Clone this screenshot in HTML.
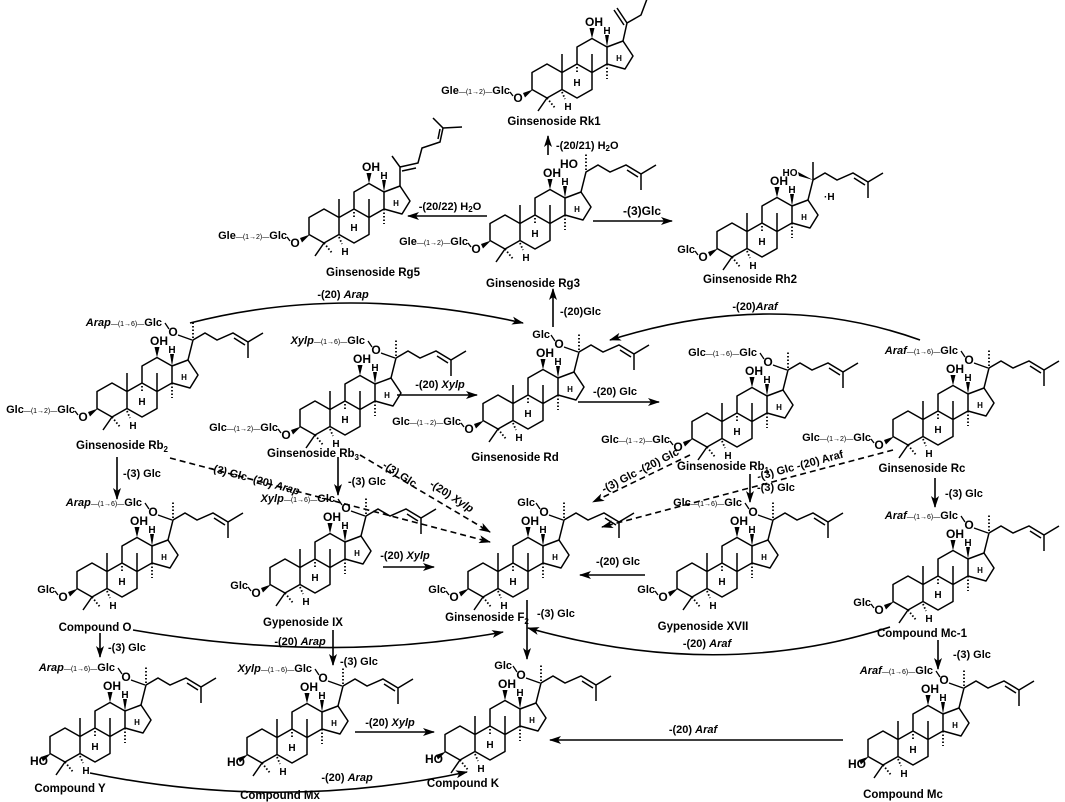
<!DOCTYPE html>
<html><head><meta charset="utf-8"><style>
html,body{margin:0;padding:0;background:#fff;}
svg{display:block;}
text{font-family:"Liberation Sans",Arial,sans-serif;font-weight:bold;font-size:11px;fill:#000;}
.s{font-size:7px;font-weight:normal;}
.lab{font-size:11.5px;}
.it{font-style:italic;}
</style></head><body>
<svg width="1065" height="802" viewBox="0 0 1065 802" xmlns="http://www.w3.org/2000/svg">
<defs>
<marker id="ah" viewBox="0 0 12 8" refX="11" refY="4" markerWidth="12" markerHeight="8" markerUnits="userSpaceOnUse" orient="auto">
<path d="M0,0 L12,4 L0,8 L3,4 Z" fill="#000"/></marker>
<g id="core">
<path fill="none" stroke="#000" stroke-width="1.5" stroke-linejoin="round" d="M0,-17 L15,-8.5 L15,8.5 L0,17 L-15,8.5 L-15,-8.5 Z M15,-8.5 L30,-17 L45,-8.5 L45,8.5 L30,17 L15,8.5 M30,-17 L30,-34 L45,-42.5 L60,-34 L60,-17 L45,-8.5 M60,-34 L76,-40 L86,-25 L78,-12 L60,-17 M15,-8.5 L15,-27 M45,-8.5 L45,-27 M0,17 L-9,30"/>
<path fill="none" stroke="#000" stroke-width="1.8" stroke-dasharray="1.5 2" d="M60,-17 L60,-2 M30,-14 L30,-7 M15,11 L18,18 M0,17 L8,27"/>
<polygon points="-14,8.5 -24,12 -22,16.5" fill="#000"/>
<polygon points="45,-42.5 42.5,-53 47.5,-53" fill="#000"/>
<polygon points="60,-34 58,-46 62,-46" fill="#000"/>
<text x="60" y="-47" text-anchor="middle" style="font-size:10px">H</text>
<text x="47" y="-55" text-anchor="middle" style="font-size:12px">OH</text>
<text x="30" y="5" text-anchor="middle" style="font-size:10px">H</text>
<text x="21" y="29" text-anchor="middle" style="font-size:10px">H</text>
<text x="72" y="-20" text-anchor="middle" style="font-size:8px">H</text>
</g>
<g id="sc">
<path fill="none" stroke="#000" stroke-width="1.5" d="M76,-40 L81,-60 L93,-67 L105,-60 L121,-67 L136,-58 L151,-67 M136,-58 L136,-42 M122,-62 L133,-55"/>
<path fill="none" stroke="#000" stroke-width="1.8" stroke-dasharray="1.5 2" d="M81,-62 L81,-78"/>
</g>
<g id="o20"><text x="61" y="-64" text-anchor="middle" style="font-size:12px">O</text>
<path d="M66,-65 L80,-60 M53,-77 L57,-71" stroke="#000" stroke-width="1.3"/></g>
<g id="o3"><text x="-29" y="21" text-anchor="middle" style="font-size:12px">O</text>
<path d="M-37,11 L-34,15" stroke="#000" stroke-width="1.3"/></g>
<g id="ho3"><text x="-26" y="20" text-anchor="middle" style="font-size:12px">HO</text></g>
</defs>

<!-- Rk1 -->
<g transform="translate(547,81)"><use href="#core"/>
<path fill="none" stroke="#000" stroke-width="1.5" d="M76,-40 L80,-58 L94,-66 L100,-82 M80,-58 L70,-73 M77,-56 L67,-71"/>
<use href="#o3"/><text x="-37" y="13" text-anchor="end">Gle<tspan class="s">—(1→2)—</tspan>Glc</text></g>
<text class="lab" x="554" y="125" text-anchor="middle">Ginsenoside Rk1</text>

<!-- Rg5 -->
<g transform="translate(324,226)"><use href="#core"/>
<path fill="none" stroke="#000" stroke-width="1.5" d="M76,-40 L76,-59 L68,-70 M76,-59 L94,-63 L98,-78 L116,-84 L119,-98 L109,-108 M119,-98 L138,-99 M78,-55 L92,-58 M114,-87 L116,-97"/>
<use href="#o3"/><text x="-37" y="13" text-anchor="end">Gle<tspan class="s">—(1→2)—</tspan>Glc</text></g>
<text class="lab" x="373" y="276" text-anchor="middle">Ginsenoside Rg5</text>

<!-- Rg3 -->
<g transform="translate(505,232)"><use href="#core"/><use href="#sc"/>
<text x="64" y="-64" text-anchor="middle" style="font-size:12px">HO</text>
<use href="#o3"/><text x="-37" y="13" text-anchor="end">Gle<tspan class="s">—(1→2)—</tspan>Glc</text></g>
<text class="lab" x="533" y="287" text-anchor="middle">Ginsenoside Rg3</text>

<!-- Rh2 -->
<g transform="translate(732,240)"><use href="#core"/>
<path fill="none" stroke="#000" stroke-width="1.5" d="M76,-40 L81,-60 L93,-67 L105,-60 L121,-67 L136,-58 L151,-67 M136,-58 L136,-42 M122,-62 L133,-55 M81,-60 L81,-78"/>
<polygon points="81,-60 66,-68 67,-64" fill="#000"/>
<text x="58" y="-64" text-anchor="middle" style="font-size:10px">HO</text>
<text x="92" y="-40" style="font-size:10px">·H</text>
<use href="#o3"/><text x="-37" y="13" text-anchor="end">Glc</text></g>
<text class="lab" x="750" y="283" text-anchor="middle">Ginsenoside Rh2</text>

<!-- Rb2 -->
<g transform="translate(112,400)"><use href="#core"/><use href="#sc"/><use href="#o20"/>
<text x="50" y="-74" text-anchor="end"><tspan class="it">Arap</tspan><tspan class="s">—(1→6)—</tspan>Glc</text>
<use href="#o3"/><text x="-37" y="13" text-anchor="end">Glc<tspan class="s">—(1→2)—</tspan>Glc</text></g>
<text class="lab" x="122" y="449" text-anchor="middle">Ginsenoside Rb<tspan font-size="8" dy="3">2</tspan></text>

<!-- Rb3 -->
<g transform="translate(315,418)"><use href="#core"/><use href="#sc"/><use href="#o20"/>
<text x="50" y="-74" text-anchor="end"><tspan class="it">Xylp</tspan><tspan class="s">—(1→6)—</tspan>Glc</text>
<use href="#o3"/><text x="-37" y="13" text-anchor="end">Glc<tspan class="s">—(1→2)—</tspan>Glc</text></g>
<text class="lab" x="313" y="457" text-anchor="middle">Ginsenoside Rb<tspan font-size="8" dy="3">3</tspan></text>

<!-- Rd -->
<g transform="translate(498,412)"><use href="#core"/><use href="#sc"/><use href="#o20"/>
<text x="52" y="-74" text-anchor="end">Glc</text>
<use href="#o3"/><text x="-37" y="13" text-anchor="end">Glc<tspan class="s">—(1→2)—</tspan>Glc</text></g>
<text class="lab" x="515" y="461" text-anchor="middle">Ginsenoside Rd</text>

<!-- Rb1 -->
<g transform="translate(707,430)"><use href="#core"/><use href="#sc"/><use href="#o20"/>
<text x="50" y="-74" text-anchor="end">Glc<tspan class="s">—(1→6)—</tspan>Glc</text>
<use href="#o3"/><text x="-37" y="13" text-anchor="end">Glc<tspan class="s">—(1→2)—</tspan>Glc</text></g>
<text class="lab" x="723" y="470" text-anchor="middle">Ginsenoside Rb<tspan font-size="8" dy="3">1</tspan></text>

<!-- Rc -->
<g transform="translate(908,428)"><use href="#core"/><use href="#sc"/><use href="#o20"/>
<text x="50" y="-74" text-anchor="end"><tspan class="it">Araf</tspan><tspan class="s">—(1→6)—</tspan>Glc</text>
<use href="#o3"/><text x="-37" y="13" text-anchor="end">Glc<tspan class="s">—(1→2)—</tspan>Glc</text></g>
<text class="lab" x="922" y="472" text-anchor="middle">Ginsenoside Rc</text>

<!-- Compound O -->
<g transform="translate(92,580)"><use href="#core"/><use href="#sc"/><use href="#o20"/>
<text x="50" y="-74" text-anchor="end"><tspan class="it">Arap</tspan><tspan class="s">—(1→6)—</tspan>Glc</text>
<use href="#o3"/><text x="-37" y="13" text-anchor="end">Glc</text></g>
<text class="lab" x="95" y="631" text-anchor="middle">Compound O</text>

<!-- IX -->
<g transform="translate(285,576)"><use href="#core"/><use href="#sc"/><use href="#o20"/>
<text x="50" y="-74" text-anchor="end"><tspan class="it">Xylp</tspan><tspan class="s">—(1→6)—</tspan>Glc</text>
<use href="#o3"/><text x="-37" y="13" text-anchor="end">Glc</text></g>
<text class="lab" x="303" y="626" text-anchor="middle">Gypenoside IX</text>

<!-- F2 -->
<g transform="translate(483,580)"><use href="#core"/><use href="#sc"/><use href="#o20"/>
<text x="52" y="-74" text-anchor="end">Glc</text>
<use href="#o3"/><text x="-37" y="13" text-anchor="end">Glc</text></g>
<text class="lab" x="487" y="621" text-anchor="middle">Ginsenoside F<tspan font-size="8" dy="3">2</tspan></text>

<!-- XVII -->
<g transform="translate(692,580)"><use href="#core"/><use href="#sc"/><use href="#o20"/>
<text x="50" y="-74" text-anchor="end">Glc<tspan class="s">—(1→6)—</tspan>Glc</text>
<use href="#o3"/><text x="-37" y="13" text-anchor="end">Glc</text></g>
<text class="lab" x="703" y="630" text-anchor="middle">Gypenoside XVII</text>

<!-- Mc-1 -->
<g transform="translate(908,593)"><use href="#core"/><use href="#sc"/><use href="#o20"/>
<text x="50" y="-74" text-anchor="end"><tspan class="it">Araf</tspan><tspan class="s">—(1→6)—</tspan>Glc</text>
<use href="#o3"/><text x="-37" y="13" text-anchor="end">Glc</text></g>
<text class="lab" x="922" y="637" text-anchor="middle">Compound Mc-1</text>

<!-- Y -->
<g transform="translate(65,745)"><use href="#core"/><use href="#sc"/><use href="#o20"/>
<text x="50" y="-74" text-anchor="end"><tspan class="it">Arap</tspan><tspan class="s">—(1→6)—</tspan>Glc</text>
<use href="#ho3"/></g>
<text class="lab" x="70" y="792" text-anchor="middle">Compound Y</text>

<!-- Mx -->
<g transform="translate(262,746)"><use href="#core"/><use href="#sc"/><use href="#o20"/>
<text x="50" y="-74" text-anchor="end"><tspan class="it">Xylp</tspan><tspan class="s">—(1→6)—</tspan>Glc</text>
<use href="#ho3"/></g>
<text class="lab" x="280" y="799" text-anchor="middle">Compound Mx</text>

<!-- K -->
<g transform="translate(460,743)"><use href="#core"/><use href="#sc"/><use href="#o20"/>
<text x="52" y="-74" text-anchor="end">Glc</text>
<use href="#ho3"/></g>
<text class="lab" x="463" y="787" text-anchor="middle">Compound K</text>

<!-- Mc -->
<g transform="translate(883,748)"><use href="#core"/><use href="#sc"/><use href="#o20"/>
<text x="50" y="-74" text-anchor="end"><tspan class="it">Araf</tspan><tspan class="s">—(1→6)—</tspan>Glc</text>
<use href="#ho3"/></g>
<text class="lab" x="903" y="798" text-anchor="middle">Compound Mc</text>

<!-- straight arrows -->
<g stroke="#000" stroke-width="1.6" fill="none" marker-end="url(#ah)">
<path d="M548,155 L548,136"/>
<path d="M487,216 L408,216"/>
<path d="M593,221 L672,221"/>
<path d="M553,327 L553,289"/>
<path d="M397,395 L477,395"/>
<path d="M578,402 L659,402"/>
<path d="M117,457 L117,499"/>
<path d="M338,457 L338,495"/>
<path d="M750,474 L750,502"/>
<path d="M935,478 L935,507"/>
<path d="M383,567 L434,567"/>
<path d="M645,575 L580,575"/>
<path d="M527,600 L527,659"/>
<path d="M100,633 L100,657"/>
<path d="M333,630 L333,665"/>
<path d="M938,640 L938,669"/>
<path d="M355,732 L434,732"/>
<path d="M843,740 L550,740"/>
<path d="M190,323 Q345,283 523,323"/>
<path d="M920,340 Q775,288 610,340"/>
<path d="M133,630 Q330,664 503,632"/>
<path d="M890,627 Q720,682 528,628"/>
<path d="M90,773 Q280,812 467,772"/>
</g>
<g stroke="#000" stroke-width="1.6" fill="none" stroke-dasharray="6 4" marker-end="url(#ah)">
<path d="M170,458 L490,542"/>
<path d="M360,455 L490,532"/>
<path d="M690,455 L593,502"/>
<path d="M893,450 L602,527"/>
</g>

<!-- arrow labels -->
<text x="556" y="149">-(20/21) H<tspan font-size="8" dy="2">2</tspan><tspan dy="-2">O</tspan></text>
<text x="450" y="210" text-anchor="middle">-(20/22) H<tspan font-size="8" dy="2">2</tspan><tspan dy="-2">O</tspan></text>
<text x="642" y="215" text-anchor="middle" style="font-size:12px">-(3)Glc</text>
<text x="560" y="315">-(20)Glc</text>
<text x="440" y="388" text-anchor="middle">-(20) <tspan class="it">Xylp</tspan></text>
<text x="615" y="395" text-anchor="middle">-(20) Glc</text>
<text x="123" y="477">-(3) Glc</text>
<text x="348" y="485">-(3) Glc</text>
<text x="757" y="491">-(3) Glc</text>
<text x="945" y="497">-(3) Glc</text>
<text x="405" y="559" text-anchor="middle">-(20) <tspan class="it">Xylp</tspan></text>
<text x="618" y="565" text-anchor="middle">-(20) Glc</text>
<text x="537" y="617">-(3) Glc</text>
<text x="108" y="651">-(3) Glc</text>
<text x="340" y="665">-(3) Glc</text>
<text x="953" y="658">-(3) Glc</text>
<text x="390" y="726" text-anchor="middle">-(20) <tspan class="it">Xylp</tspan></text>
<text x="693" y="733" text-anchor="middle">-(20) <tspan class="it">Araf</tspan></text>
<text x="343" y="298" text-anchor="middle">-(20) <tspan class="it">Arap</tspan></text>
<text x="755" y="310" text-anchor="middle">-(20)<tspan class="it">Araf</tspan></text>
<text x="300" y="645" text-anchor="middle">-(20) <tspan class="it">Arap</tspan></text>
<text x="707" y="647" text-anchor="middle">-(20) <tspan class="it">Araf</tspan></text>
<text x="347" y="781" text-anchor="middle">-(20) <tspan class="it">Arap</tspan></text>
<text x="255" y="483" text-anchor="middle" transform="rotate(15 255 479)">-(3) Glc -(20) <tspan class="it">Arap</tspan></text>
<text x="400" y="478" text-anchor="middle" transform="rotate(33 400 474)">-(3) Glc</text>
<text x="452" y="500" text-anchor="middle" transform="rotate(33 452 496)">-(20) <tspan class="it">Xylp</tspan></text>
<text x="640" y="474" text-anchor="middle" transform="rotate(-27 640 470)">-(3) Glc -(20) Glc</text>
<text x="800" y="469" text-anchor="middle" transform="rotate(-15 800 465)">-(3) Glc  -(20) Araf</text>
</svg>
</body></html>
